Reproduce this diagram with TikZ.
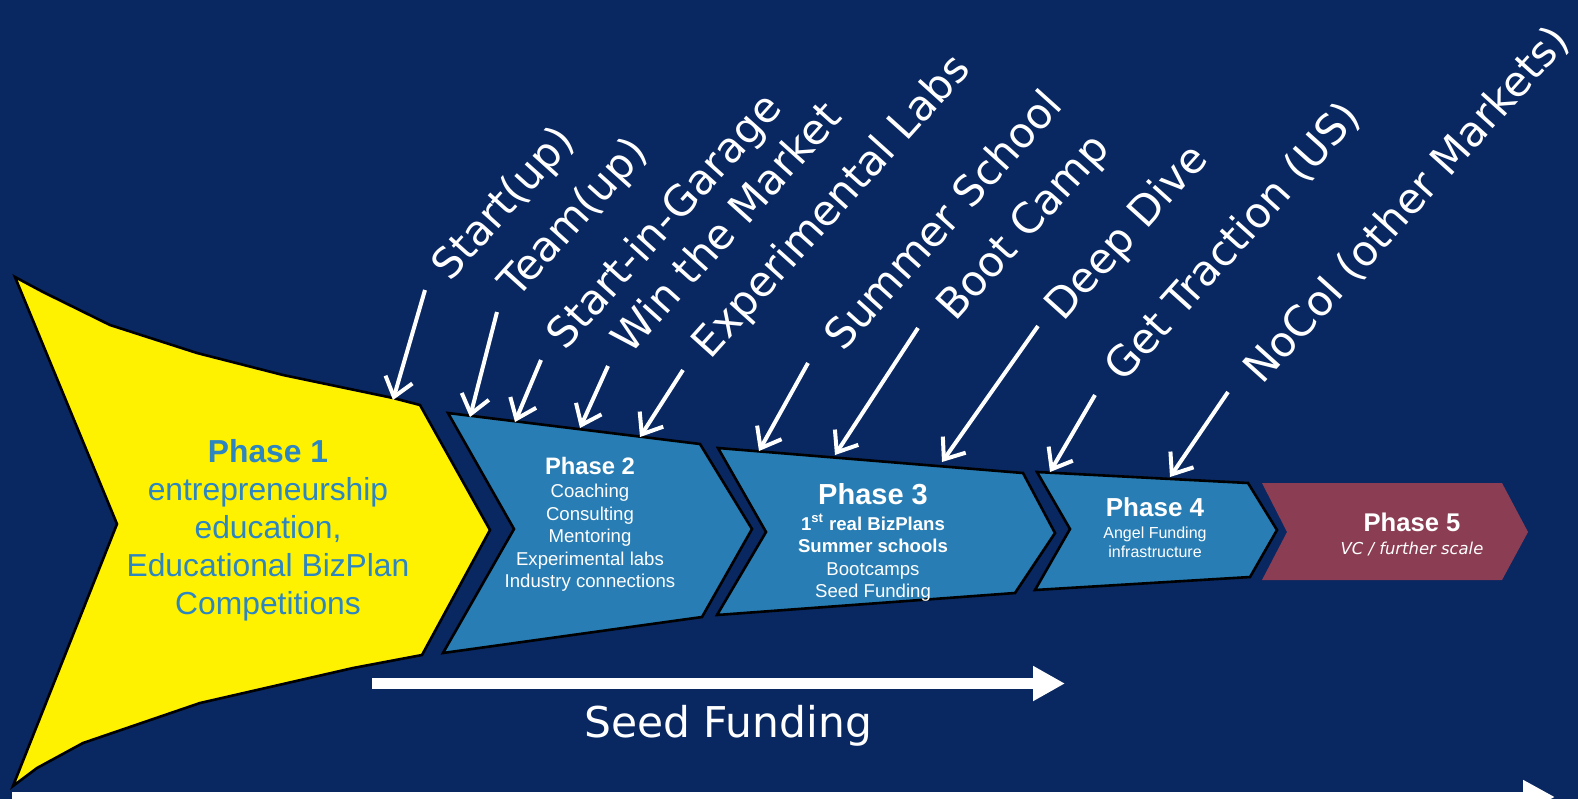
\documentclass[tikz,border=0pt]{standalone}
\usepackage{fontspec}
\setmainfont{Liberation Sans}
\newfontfamily\verdana{DejaVu Sans}
\usetikzlibrary{arrows.meta}

\definecolor{navy}{RGB}{9,39,97}
\definecolor{phaseblue}{RGB}{40,125,180}
\definecolor{phasered}{RGB}{139,61,83}
\definecolor{textblue}{RGB}{46,134,193}

\tikzset{
	phase/.style={draw=black, line width=1.3pt, line join=miter},
	tag/.style={white, font=\verdana\fontsize{21}{25}\selectfont, rotate=48, anchor=base west, inner sep=0pt},
	feed/.style={white, line width=2pt, -{Straight Barb[length=9pt, width=14pt]}},
	title/.style={white, font=\bfseries, align=center},
	body/.style={white, align=center}
}

\begin{document}
\begin{tikzpicture}[x=0.5pt, y=-0.5pt]
	\fill[navy] (0,0) rectangle (1578,799);
	\useasboundingbox (0,0) rectangle (1578,799);
	\clip (0,0) rectangle (1578,799);

	% phases
	\draw[phase, fill=yellow] (15,277) -- (43,292) -- (110,325) -- (197,353) -- (283,375) -- (393,398) -- (420,405)
		-- (490,530) -- (422,655) -- (353,668) -- (200,703) -- (83,743) -- (37,768) -- (13,786) -- (117,524) -- cycle;
	\draw[phase, fill=phaseblue] (448,413) -- (700,444) -- (752,529) -- (702,617) -- (443,653) -- (514,529) -- cycle;
	\draw[phase, fill=phaseblue] (718,448) -- (1023,473) -- (1055,533) -- (1015,593) -- (717,615) -- (766,532) -- cycle;
	\draw[phase, fill=phaseblue] (1037,472) -- (1248,483) -- (1277,530) -- (1250,577) -- (1035,590) -- (1070,529) -- cycle;
	\fill[phasered] (1262,483) -- (1502,483) -- (1528,532) -- (1502,580) -- (1262,580) -- (1287,532) -- cycle;

	% phase texts
	\node[textblue, align=center, font=\fontsize{15.9}{19}\selectfont] (p1) at (268,530)
		{\textbf{Phase 1}\\entrepreneurship\\education,\\Educational BizPlan\\Competitions};
	\node[title, font=\bfseries\fontsize{11.9}{14}\selectfont] (p2title) at (590,466) {Phase 2};
	\node[body, font=\fontsize{9.3}{11.25}\selectfont] (p2) at (590,538)
		{Coaching\\Consulting\\Mentoring\\Experimental labs\\Industry connections};
	\node[title, font=\bfseries\fontsize{14.5}{17}\selectfont] (p3title) at (873,494) {Phase 3};
	\node[body, font=\fontsize{9.3}{11.25}\selectfont] (p3) at (873,558)
		{\textbf{1\textsuperscript{st} real BizPlans}\\\textbf{Summer schools}\\Bootcamps\\Seed Funding};
	\node[title, font=\bfseries\fontsize{13}{15}\selectfont] (p4title) at (1155,507) {Phase 4};
	\node[body, font=\fontsize{8}{9.5}\selectfont] (p4) at (1155,542) {Angel Funding\\infrastructure};
	\node[title, font=\bfseries\fontsize{12.8}{15}\selectfont] (p5title) at (1412,522) {Phase 5};
	\node[body, font=\verdana\itshape\fontsize{8.2}{10}\selectfont] (p5) at (1412,549) {VC / further scale};

	% programmes
	\node[tag] (t1) at (450,283) {Start(up)};
	\node[tag] (t2) at (517,300) {Team(up)};
	\node[tag] (t3) at (565,352) {Start-in-Garage};
	\node[tag] (t4) at (630,356) {Win the Market};
	\node[tag] (t5) at (710,361) {Experimental Labs};
	\node[tag] (t6) at (843,353) {Summer School};
	\node[tag] (t7) at (955,323) {Boot Camp};
	\node[tag] (t8) at (1063,323) {Deep Dive};
	\node[tag] (t9) at (1123,384) {Get Traction (US)};
	\node[tag] (t10) at (1262,386) {NoCoI (other Markets)};

	\coordinate (s1) at (425,290);  \coordinate (e1) at (393,400);
	\coordinate (s2) at (497,312);  \coordinate (e2) at (470,417);
	\coordinate (s3) at (541,360);  \coordinate (e3) at (515,422);
	\coordinate (s4) at (608,366);  \coordinate (e4) at (580,428);
	\coordinate (s5) at (683,370);  \coordinate (e5) at (640,437);
	\coordinate (s6) at (808,363);  \coordinate (e6) at (759,451);
	\coordinate (s7) at (918,328);  \coordinate (e7) at (835,455);
	\coordinate (s8) at (1038,326); \coordinate (e8) at (942,462);
	\coordinate (s9) at (1095,395); \coordinate (e9) at (1050,472);
	\coordinate (s10) at (1228,392); \coordinate (e10) at (1170,477);

	\draw[feed] (s1) -- (e1);
	\draw[feed] (s2) -- (e2);
	\draw[feed] (s3) -- (e3);
	\draw[feed] (s4) -- (e4);
	\draw[feed] (s5) -- (e5);
	\draw[feed] (s6) -- (e6);
	\draw[feed] (s7) -- (e7);
	\draw[feed] (s8) -- (e8);
	\draw[feed] (s9) -- (e9);
	\draw[feed] (s10) -- (e10);

	% funding arrows
	\coordinate (sf1) at (372,683.5);
	\coordinate (sf2) at (1065,683.5);
	\draw[white, line width=5.5pt, -{Triangle[length=16pt, width=16.5pt]}] (sf1) -- (sf2);
	\node[white, font=\verdana\fontsize{21.2}{25}\selectfont] (seed) at (728,726) {Seed Funding};

	\coordinate (tl1) at (12,797);
	\coordinate (tl2) at (1555,797);
	\draw[white, line width=5pt, -{Triangle[length=16pt, width=16pt]}] (tl1) -- (tl2);
\end{tikzpicture}
\end{document}
